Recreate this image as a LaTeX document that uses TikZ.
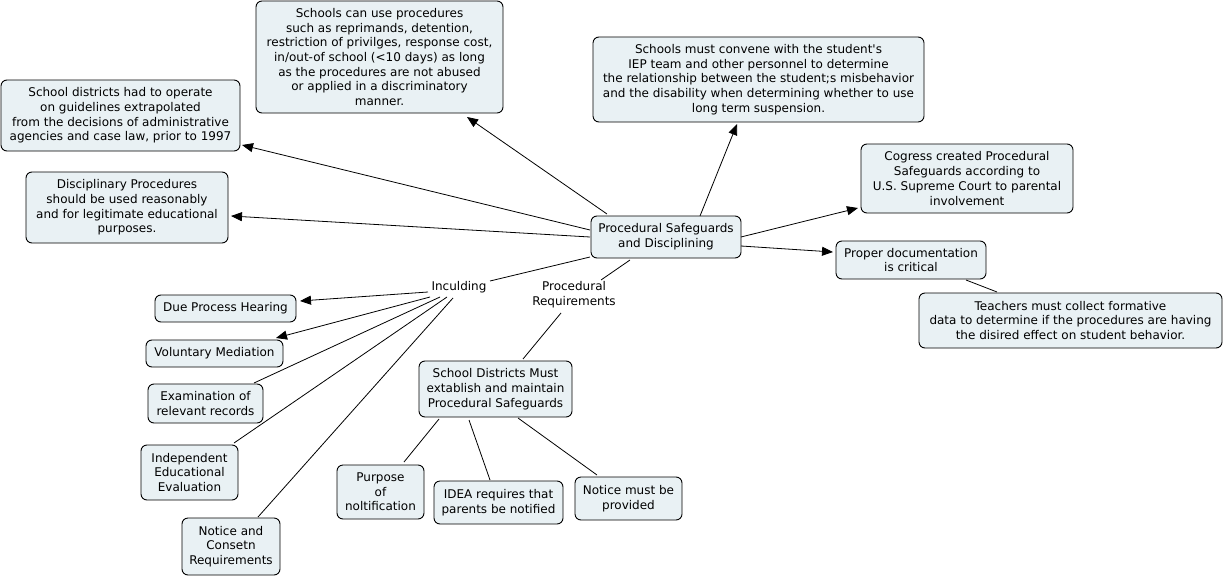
\documentclass[tikz,border=0pt]{standalone}
\usepackage{fontspec}
\setmainfont{DejaVu Sans}
\usetikzlibrary{arrows.meta,calc}
\definecolor{boxfill}{RGB}{233,241,244}
\newcommand{\sq}{{\XeTeXglyph\XeTeXglyphindex "quotesingle"\relax}}
\begin{document}
\begin{tikzpicture}[x=1pt,y=-1pt,
  concept/.style={draw=black,fill=boxfill,rounded corners=6pt,line width=0.9pt,
    align=center,inner sep=0pt,font=\fontsize{12}{14.7}\selectfont},
  linkph/.style={align=center,inner sep=1pt,font=\fontsize{12}{14.7}\selectfont},
  conn/.style={line width=0.8pt,draw=black},
  arr/.style={conn,-{Triangle[length=11pt,width=9pt]}}]
\useasboundingbox[fill=white] (0,0) rectangle (1225,578);
\newcommand{\cbox}[6]{\node[concept,minimum width=#4,minimum height=#5] (#1) at (#2,#3) {#6};}
% concepts (name, cx, cy, w, h, text)
\cbox{A}{379.5}{57}{247}{112}{Schools can use procedures\\such as reprimands, detention,\\restriction of privilges, response cost,\\in/out-of school (<10 days) as long\\as the procedures are not abused\\or applied in a discriminatory\\manner.}
\cbox{B}{120.5}{115.5}{239}{71}{School districts had to operate\\on guidelines extrapolated\\from the decisions of administrative\\agencies and case law, prior to 1997}
\cbox{C}{127}{207.5}{202}{71}{Disciplinary Procedures\\should be used reasonably\\and for legitimate educational\\purposes.}
\cbox{D}{758.5}{79.5}{331}{85}{Schools must convene with the student\sq s\\IEP team and other personnel to determine\\the relationship between the student;s misbehavior\\and the disability when determining whether to use\\long term suspension.}
\cbox{E}{967}{178.5}{212}{69}{Cogress created Procedural\\Safeguards according to\\U.S. Supreme Court to parental\\involvement}
\cbox{F}{666}{237}{150}{42}{Procedural Safeguards\\and Disciplining}
\cbox{G}{911}{260}{150}{38}{Proper documentation\\is critical}
\cbox{H}{1070.5}{320.5}{303}{55}{Teachers must collect formative\\data to determine if the procedures are having\\the disired effect on student behavior.}
\cbox{I}{225.5}{308.5}{141}{27}{Due Process Hearing}
\cbox{J}{214.5}{353.5}{137}{27}{Voluntary Mediation}
\cbox{K}{205.5}{403.5}{115}{39}{Examination of\\relevant records}
\cbox{L}{189.5}{472.5}{97}{55}{Independent\\Educational\\Evaluation}
\cbox{M}{231}{546.5}{98}{57}{Notice and\\Consetn\\Requirements}
\cbox{N}{495.5}{389}{153}{56}{School Districts Must\\extablish and maintain\\Procedural Safeguards}
\cbox{O}{380.5}{492}{87}{54}{Purpose\\of\\noltification}
\cbox{P}{498.5}{502.5}{129}{43}{IDEA requires that\\parents be notified}
\cbox{Q}{628.5}{498.5}{107}{43}{Notice must be\\provided}
% linking phrases
\node[linkph] (inc) at (459,287) {Inculding};
\node[linkph] (pr) at (574,295) {Procedural\\Requirements};
% connectors
\draw[arr] ($(F.center)+(-59,-23)$) -- ($(A.center)+(87.5,60)$);
\draw[arr] ($(F.center)+(-76,-7)$) -- ($(B.center)+(121.5,29.5)$);
\draw[arr] ($(F.center)+(-76,0)$) -- ($(C.center)+(104,8.5)$);
\draw[arr] ($(F.center)+(34,-21)$) -- ($(D.center)+(-21.5,44.5)$);
\draw[arr] ($(F.center)+(75,0)$) -- ($(E.center)+(-109,29.5)$);
\draw[arr] ($(F.center)+(75,9)$) -- ($(G.center)+(-78,-8)$);
\draw[conn] ($(G.center)+(55,20)$) -- ($(H.center)+(-73.5,-28.5)$);
\draw[conn] ($(F.center)+(-76,20)$) -- ($(inc.center)+(31,-6)$);
\draw[conn] ($(F.center)+(-36,23)$) -- ($(pr.center)+(27,-15)$);
\draw[arr] ($(inc.center)+(-31,5)$) -- ($(I.center)+(74.5,-7.5)$);
\draw[arr] ($(inc.center)+(-29,10)$) -- ($(J.center)+(61.5,-15.5)$);
\draw[conn] ($(inc.center)+(-19,10)$) -- ($(K.center)+(48.5,-20.5)$);
\draw[conn] ($(inc.center)+(-12,10)$) -- ($(L.center)+(44.5,-29.5)$);
\draw[conn] ($(inc.center)+(-6,11)$) -- ($(M.center)+(27,-29.5)$);
\draw[conn] ($(pr.center)+(-13,18)$) -- ($(N.center)+(27.5,-30)$);
\draw[conn] ($(N.center)+(-56.5,30)$) -- ($(O.center)+(23.5,-30)$);
\draw[conn] ($(N.center)+(-26.5,31)$) -- ($(P.center)+(-8.5,-22.5)$);
\draw[conn] ($(N.center)+(22.5,29)$) -- ($(Q.center)+(-31.5,-23.5)$);
\end{tikzpicture}
\end{document}
